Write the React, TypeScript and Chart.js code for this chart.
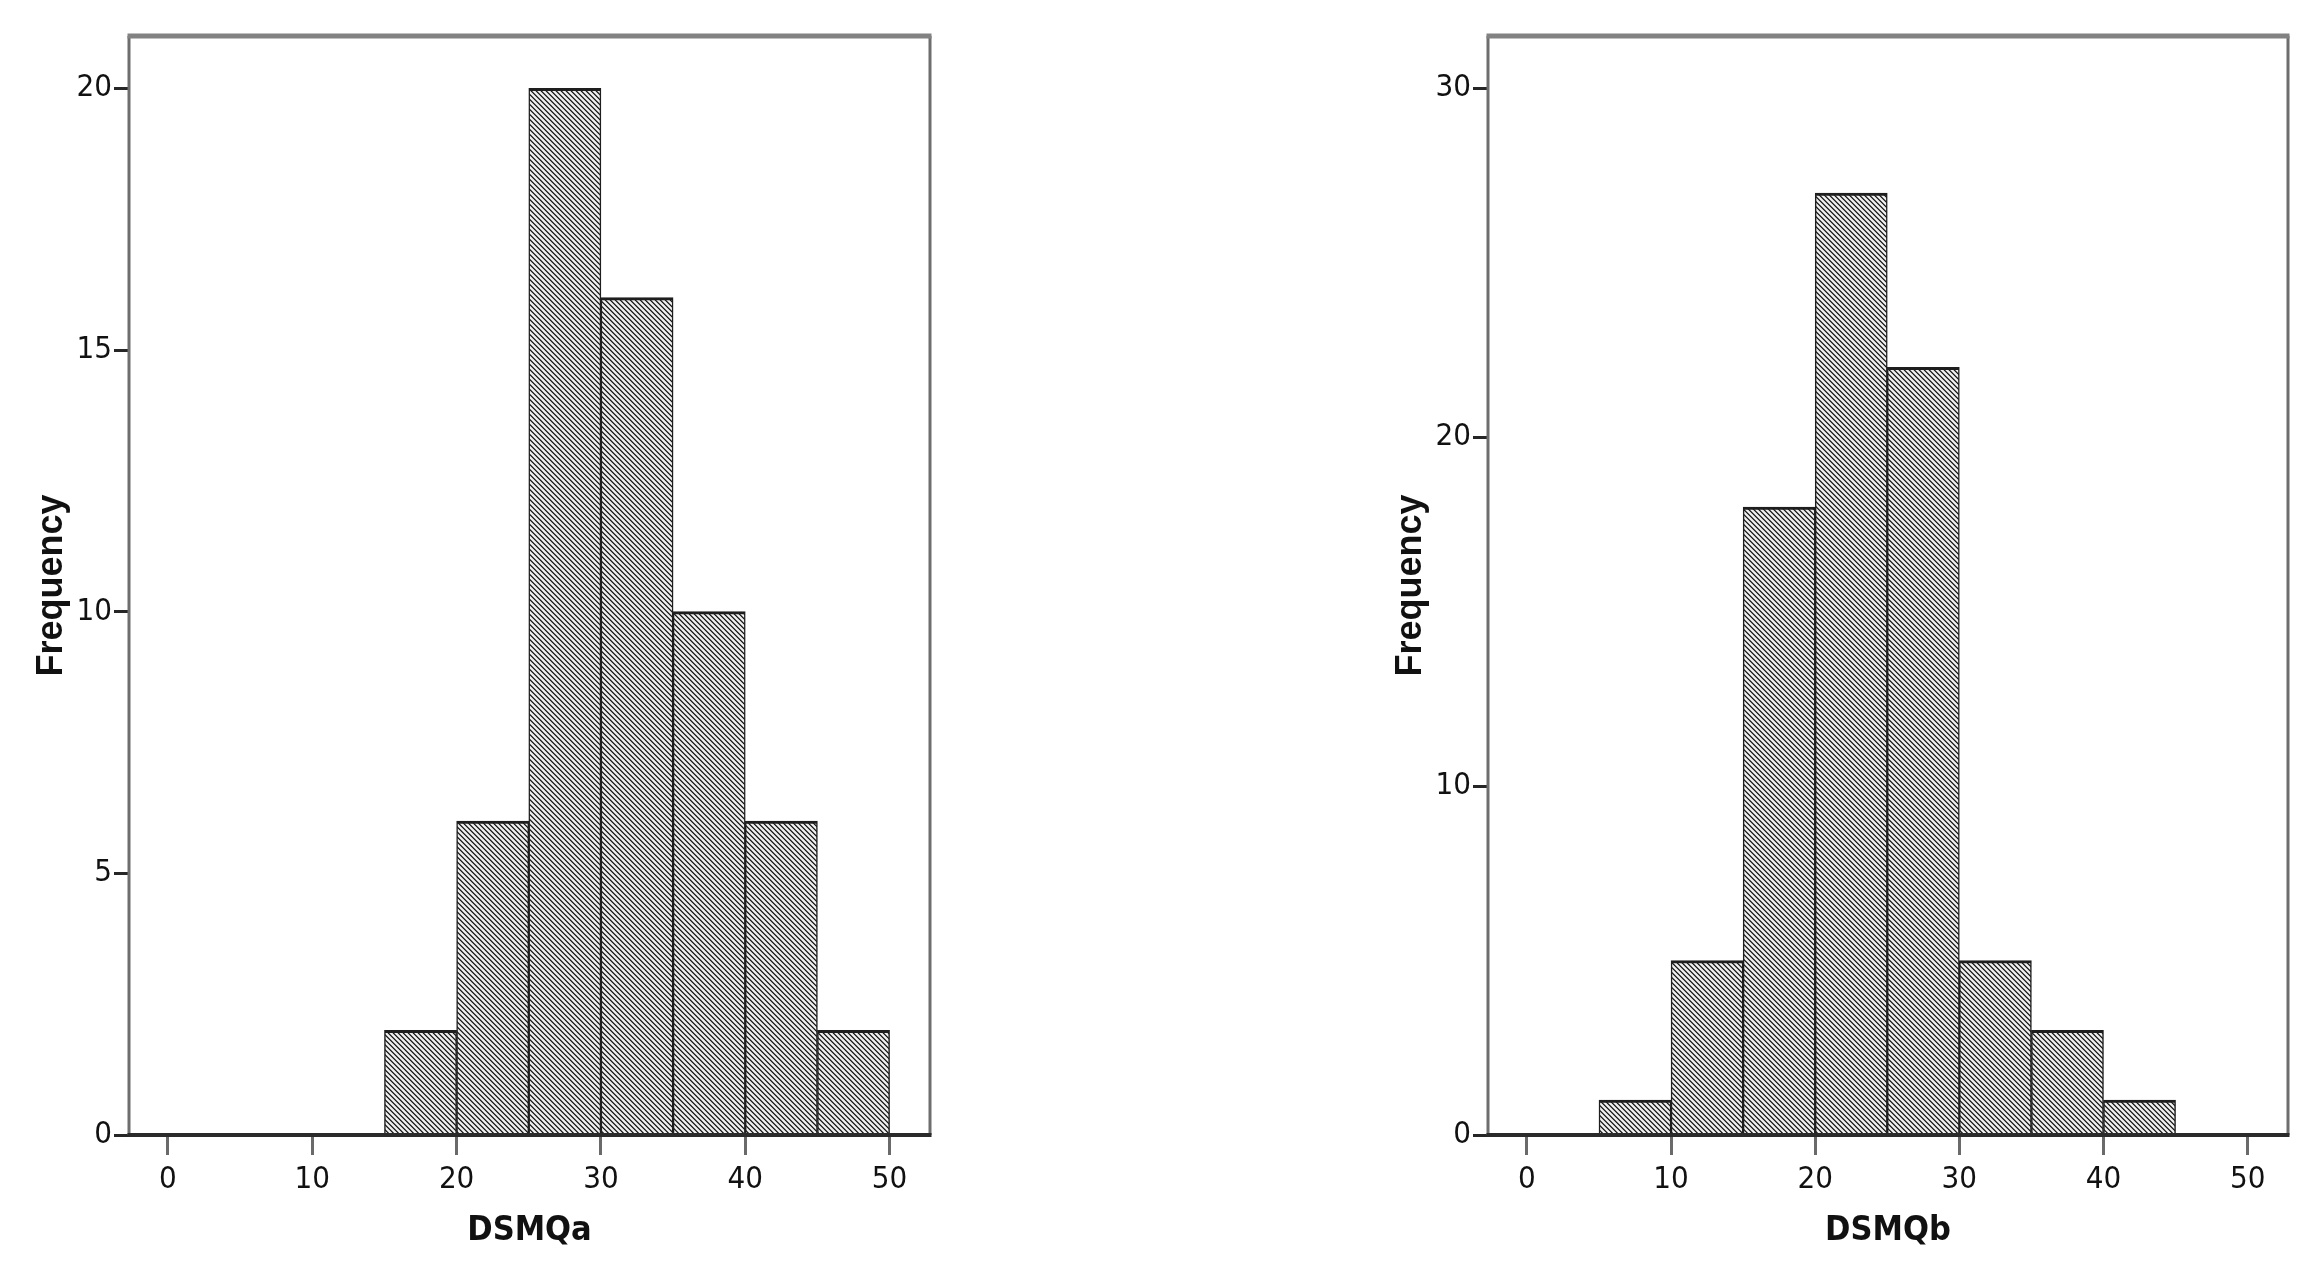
import React, { useEffect, useRef } from 'react';
import { Chart, registerables } from 'chart.js';

Chart.register(...registerables);

// ---- data ----
const binWidth = 5;
const binStartsA = [15, 20, 25, 30, 35, 40, 45];
const countsA = [2, 6, 20, 16, 10, 6, 2];
const binStartsB = [5, 10, 15, 20, 25, 30, 35, 40];
const countsB = [1, 5, 18, 27, 22, 5, 3, 1];
const xTickValues = [0, 10, 20, 30, 40, 50];
const yTickValuesA = [0, 5, 10, 15, 20];
const yTickValuesB = [0, 10, 20, 30];
const xMinValue = -2.7;
const xMaxValue = 52.8;
const yMaxA = 21;
const yMaxB = 31.5;
const xTitleA = 'DSMQa';
const xTitleB = 'DSMQb';
const yTitleText = 'Frequency';

const NARROW = "'Liberation Sans Narrow', 'DejaVu Sans Condensed', 'Liberation Sans', sans-serif";
const WIDE = "'Liberation Sans', Arial, sans-serif";

const CANVAS_H = 1282;
const AREA_TOP = 36;
const AREA_BOTTOM = 1135;
const Y_AXIS_W = 129;

function makeHatch(): CanvasPattern | string {
  const size = 5;
  const c = document.createElement('canvas');
  c.width = size;
  c.height = size;
  const g = c.getContext('2d');
  if (!g) return '#999';
  const img = g.createImageData(size, size);
  for (let y = 0; y < size; y++) {
    for (let x = 0; x < size; x++) {
      const k = (((x - y) % size) + size) % size;
      const v = k === 0 ? 30 : k === 1 ? 100 : k === 4 ? 200 : 238;
      const i = (y * size + x) * 4;
      img.data[i] = v;
      img.data[i + 1] = v;
      img.data[i + 2] = v;
      img.data[i + 3] = 255;
    }
  }
  g.putImageData(img, 0, 0);
  return g.createPattern(c, 'repeat') || '#999';
}

const framePlugin = {
  id: 'frame',
  afterDatasetsDraw(chart: any) {
    const { ctx, chartArea } = chart;
    const { left, right, top, bottom } = chartArea;
    ctx.save();
    ctx.lineCap = 'butt';
    const line = (x1: number, y1: number, x2: number, y2: number) => {
      ctx.beginPath();
      ctx.moveTo(x1, y1);
      ctx.lineTo(x2, y2);
      ctx.stroke();
    };
    ctx.strokeStyle = '#6e6e6e';
    ctx.lineWidth = 3;
    line(left, top, left, bottom);
    line(right, top, right, bottom);
    ctx.strokeStyle = '#828282';
    ctx.lineWidth = 5;
    line(left - 1.5, top, right + 1.5, top);
    ctx.strokeStyle = '#2a2a2a';
    ctx.lineWidth = 4;
    line(left - 1.5, bottom, right + 1.5, bottom);
    ctx.restore();
  },
};

type HistProps = {
  starts: number[];
  counts: number[];
  yMax: number;
  yTicks: number[];
  xTitle: string;
  left: number;
  width: number;
  areaRight: number;
};

function Histogram({ starts, counts, yMax, yTicks, xTitle, left, width, areaRight }: HistProps) {
  const ref = useRef<HTMLCanvasElement>(null);
  useEffect(() => {
    if (!ref.current) return;
    const pattern = makeHatch();
    const chart = new Chart(ref.current, {
      type: 'bar',
      data: {
        datasets: [
          {
            data: starts.map((s, i) => ({ x: s + binWidth / 2, y: counts[i] })),
            backgroundColor: pattern as any,
            borderColor: '#1e1e1e',
            borderWidth: { top: 3, left: 1.5, right: 1.5, bottom: 0 },
            barPercentage: 1,
            categoryPercentage: 1,
          } as any,
        ],
      },
      options: {
        responsive: false,
        animation: false,
        layout: { padding: { top: AREA_TOP, right: width - areaRight, bottom: 0, left: 0 } },
        plugins: { legend: { display: false }, tooltip: { enabled: false } },
        scales: {
          x: {
            type: 'linear',
            min: xMinValue,
            max: xMaxValue,
            offset: false,
            afterBuildTicks: (s: any) => {
              s.ticks = xTickValues.map((v) => ({ value: v }));
            },
            afterFit: (s: any) => {
              s.height = CANVAS_H - AREA_BOTTOM;
            },
            grid: {
              offset: false,
              drawOnChartArea: false,
              drawTicks: true,
              tickLength: 20,
              tickWidth: 3,
              tickColor: '#6a6a6a',
            },
            border: { display: false },
            ticks: {
              autoSkip: false,
              maxRotation: 0,
              padding: 6,
              color: '#111',
              font: { family: NARROW, size: 31 },
            },
            title: {
              display: true,
              text: xTitle,
              color: '#111',
              font: { family: NARROW, size: 34, weight: 'bold' },
              padding: { top: 0, bottom: 30 },
            },
          },
          y: {
            type: 'linear',
            min: 0,
            max: yMax,
            afterBuildTicks: (s: any) => {
              s.ticks = yTicks.map((v) => ({ value: v }));
            },
            afterFit: (s: any) => {
              s.width = Y_AXIS_W;
            },
            grid: {
              drawOnChartArea: false,
              drawTicks: true,
              tickLength: 15,
              tickWidth: 3,
              tickColor: '#262626',
            },
            border: { display: false },
            ticks: {
              autoSkip: false,
              padding: 2,
              color: '#111',
              font: { family: NARROW, size: 31 },
            },
            title: {
              display: true,
              text: yTitleText,
              color: '#111',
              font: { family: WIDE, size: 36, weight: 'bold' },
              padding: { top: 30, bottom: 0 },
            },
          },
        },
      } as any,
      plugins: [framePlugin],
    });
    return () => chart.destroy();
  }, [starts, counts, yMax, yTicks, xTitle, width, areaRight]);

  return (
    <canvas
      ref={ref}
      width={width}
      height={CANVAS_H}
      style={{ position: 'absolute', left, top: 0, width, height: CANVAS_H, display: 'block' }}
    />
  );
}

export default function App() {
  return (
    <div
      style={{
        position: 'fixed',
        left: 0,
        top: 0,
        width: 2317,
        height: 1282,
        background: '#ffffff',
        overflow: 'hidden',
      }}
    >
      <Histogram
        starts={binStartsA}
        counts={countsA}
        yMax={yMaxA}
        yTicks={yTickValuesA}
        xTitle={xTitleA}
        left={0}
        width={1000}
        areaRight={930}
      />
      <Histogram
        starts={binStartsB}
        counts={countsB}
        yMax={yMaxB}
        yTicks={yTickValuesB}
        xTitle={xTitleB}
        left={1359}
        width={958}
        areaRight={929}
      />
    </div>
  );
}
